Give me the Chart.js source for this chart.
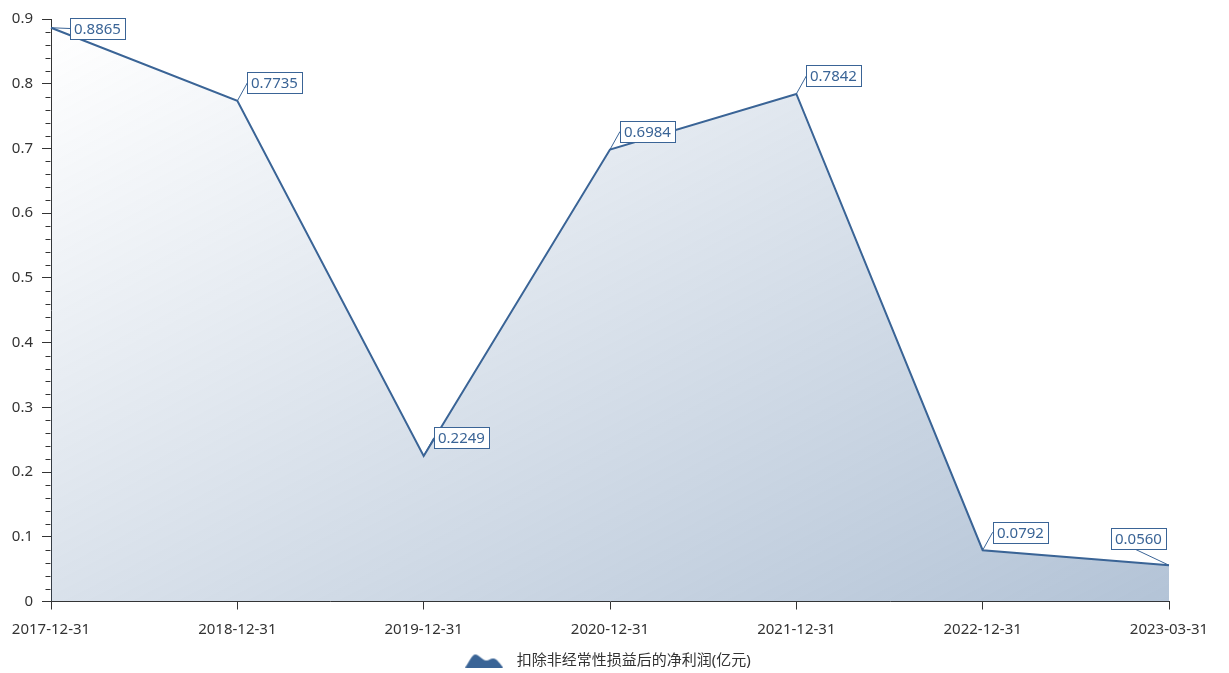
<!DOCTYPE html>
<html>
<head>
<meta charset="utf-8">
<script src="https://cdn.jsdelivr.net/npm/chart.js@4.4.0/dist/chart.umd.min.js"></script>
<style>
  html, body { margin: 0; padding: 0; background: #ffffff; }
  #wrap { width: 1229px; height: 673px; position: relative; }
</style>
</head>
<body>
<div id="wrap"><canvas id="c"></canvas></div>
<script>
const categories = ['2017-12-31', '2018-12-31', '2019-12-31', '2020-12-31', '2021-12-31', '2022-12-31', '2023-03-31'];
const seriesName = '扣除非经常性损益后的净利润(亿元)';
const netProfit = [0.8865, 0.7735, 0.2249, 0.6984, 0.7842, 0.0792, 0.0560];
const yMin = 0, yMax = 0.9, yMajorStep = 0.1, yMinorStep = 0.02;

const FONT = '"Microsoft YaHei", "Noto Sans", "Noto Sans CJK SC", sans-serif';
const LINE = '#3a6496';
const AXIS = '#333333';

// legend icon (mountain shape)
const icon = document.createElement('canvas');
icon.width = 38; icon.height = 14;
(function () {
  const g = icon.getContext('2d');
  g.fillStyle = LINE;
  g.beginPath();
  g.moveTo(0, 14);
  g.bezierCurveTo(4, 8, 7, 1, 10, 1);
  g.bezierCurveTo(14, 1, 17, 7, 21, 7);
  g.bezierCurveTo(24, 7, 25, 5, 28, 5);
  g.bezierCurveTo(32, 5, 35, 11, 38, 14);
  g.closePath();
  g.fill();
})();

const minorTicks = {
  id: 'minorTicks',
  afterDraw(chart) {
    const y = chart.scales.y;
    const ctx = chart.ctx;
    ctx.save();
    ctx.strokeStyle = AXIS;
    ctx.lineWidth = 1;
    const x = Math.round(y.right) - 0.5;
    for (let v = yMin; v <= yMax + 1e-9; v += yMinorStep) {
      const r = Math.round(v * 100) / 100;
      if (Math.abs(r / yMajorStep - Math.round(r / yMajorStep)) < 1e-6) continue;
      const py = Math.round(y.getPixelForValue(r)) + 0.5;
      ctx.beginPath();
      ctx.moveTo(x - 5, py);
      ctx.lineTo(x, py);
      ctx.stroke();
    }
    ctx.restore();
  }
};

// place legend like the reference (centre ~605px, slightly lower)
const legendShift = {
  id: 'legendShift',
  afterLayout(chart) {
    const lg = chart.legend;
    if (!lg) return;
    lg.left = 0;
    lg.right = 1210;
    lg.width = 1210;
    lg.top += 5;
    lg.bottom += 5;
  }
};

const dataLabels = {
  id: 'dataLabels',
  afterDatasetsDraw(chart) {
    const ctx = chart.ctx;
    const meta = chart.getDatasetMeta(0);
    const ds = chart.data.datasets[0];
    ctx.save();
    ctx.font = '15px ' + FONT;
    ctx.textBaseline = 'middle';
    ctx.textAlign = 'left';
    meta.data.forEach((pt, i) => {
      const txt = ds.data[i].toFixed(4);
      const tw = ctx.measureText(txt).width;
      const w = tw + 8, h = 21;
      let left = pt.x + 10;
      let cy = pt.y - 18;
      let tx, ty;
      if (left + w > chart.width - 60) {
        left = pt.x - 3 - w;
        cy = pt.y - 27;
      }
      let top = cy - h / 2;
      if (top < chart.chartArea.top - 1) {
        top = chart.chartArea.top - 1; cy = top + h / 2;
        left = pt.x + 19;
      }
      if (left + w < pt.x) { tx = left + w * 0.42; ty = top + h; }
      else { tx = left; ty = cy; }
      ctx.strokeStyle = LINE;
      ctx.lineWidth = 1;
      ctx.beginPath();
      ctx.moveTo(pt.x, pt.y);
      ctx.lineTo(tx, ty);
      ctx.stroke();
      ctx.fillStyle = '#ffffff';
      ctx.fillRect(Math.round(left) + 0.5, Math.round(top) + 0.5, Math.round(w), h);
      ctx.strokeRect(Math.round(left) + 0.5, Math.round(top) + 0.5, Math.round(w), h);
      ctx.fillStyle = LINE;
      ctx.fillText(txt, Math.round(left) + 4, Math.round(top) + h / 2 + 1);
    });
    ctx.restore();
  }
};

new Chart(document.getElementById('c'), {
  type: 'line',
  data: {
    labels: categories,
    datasets: [{
      label: seriesName,
      data: netProfit,
      borderColor: LINE,
      borderWidth: 2,
      pointRadius: 0,
      pointHoverRadius: 0,
      tension: 0,
      fill: 'origin',
      backgroundColor(context) {
        const chart = context.chart;
        const ca = chart.chartArea;
        if (!ca || !chart.scales.y) return 'rgba(58,100,150,0.2)';
        // gradient defined in the normalised bounding box of the area (top-left -> bottom-right)
        const L = ca.left, R = ca.right, B = chart.scales.y.getPixelForValue(0);
        const T = chart.scales.y.getPixelForValue(Math.max(...netProfit));
        const W = R - L, H = B - T;
        const s = W * W + H * H;
        const dx = 2 * W * H * H / s, dy = 2 * W * W * H / s;
        const g = chart.ctx.createLinearGradient(L, T, L + dx, T + dy);
        g.addColorStop(0, 'rgba(58,100,150,0.0)');
        g.addColorStop(1, 'rgba(58,100,150,0.385)');
        return g;
      },
      pointStyle: icon
    }]
  },
  options: {
    responsive: true,
    maintainAspectRatio: false,
    animation: false,
    layout: { padding: { top: 19, right: 60, left: 0, bottom: 0 } },
    plugins: {
      tooltip: { enabled: false },
      legend: {
        position: 'bottom',
        labels: {
          usePointStyle: true,
          pointStyleWidth: 50,
          boxHeight: 14,
          color: '#333333',
          font: { family: FONT, size: 15 },
          padding: 1
        }
      }
    },
    scales: {
      x: {
        type: 'category',
        offset: false,
        afterFit(s) { s.height = 45.5; },
        grid: { display: true, drawOnChartArea: false, drawTicks: true, tickLength: 8, color: AXIS, tickColor: AXIS },
        border: { display: true, color: AXIS, width: 1 },
        ticks: { color: '#333333', font: { family: FONT, size: 15 }, padding: 11, maxRotation: 0, autoSkip: false }
      },
      y: {
        min: yMin, max: yMax,
        afterFit(s) { s.width = 51; },
        grid: { display: true, drawOnChartArea: false, drawTicks: true, tickLength: 9, color: AXIS, tickColor: AXIS },
        border: { display: true, color: AXIS, width: 1 },
        ticks: {
          stepSize: yMajorStep,
          color: '#333333',
          font: { family: FONT, size: 15 },
          padding: 9,
          callback(v) { return Math.round(v * 10) / 10 === 0 ? '0' : (Math.round(v * 10) / 10).toString(); }
        }
      }
    }
  },
  plugins: [minorTicks, dataLabels, legendShift]
});
</script>
</body>
</html>
